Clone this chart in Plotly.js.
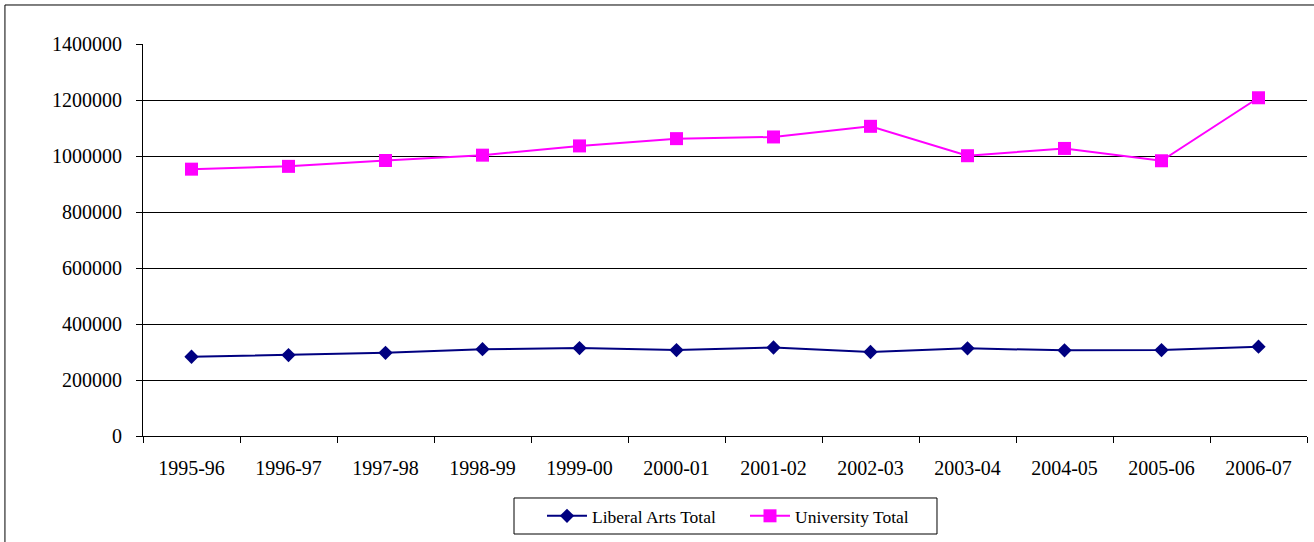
<!DOCTYPE html>
<html>
<head>
<meta charset="utf-8">
<script src="https://cdn.plot.ly/plotly-3.0.1.min.js"></script>
<style>
html,body{margin:0;padding:0;background:#fff;}
#chart{width:1314px;height:542px;}
</style>
</head>
<body>
<div id="chart"></div>
<script>
const years = ["1995-96","1996-97","1997-98","1998-99","1999-00","2000-01","2001-02","2002-03","2003-04","2004-05","2005-06","2006-07"];
const liberalArtsTotal = [283000,289000,297000,310000,314000,307000,316000,300000,313000,306000,307000,319000];
const universityTotal = [953000,963000,984000,1003000,1036000,1062000,1068000,1106000,1001000,1027000,983000,1208000];
const yTickVals = [0,200000,400000,600000,800000,1000000,1200000,1400000];

const fontFam = 'Liberation Serif, Times New Roman, serif';

const traces = [
  {
    x: years, y: liberalArtsTotal, name: "Liberal Arts Total",
    type: "scatter", mode: "lines+markers",
    line: {color: "#000080", width: 2},
    marker: {symbol: "diamond", size: 11, color: "#000080"}
  },
  {
    x: years, y: universityTotal, name: "University Total",
    type: "scatter", mode: "lines+markers",
    line: {color: "#FF00FF", width: 2},
    marker: {symbol: "square", size: 13, color: "#FF00FF"}
  }
];

const layout = {
  width: 1314, height: 542,
  margin: {l: 143, r: 7, t: 44, b: 106},
  paper_bgcolor: "#ffffff",
  plot_bgcolor: "#ffffff",
  font: {family: fontFam, size: 20, color: "#000"},
  showlegend: true,
  legend: {
    orientation: "h", x: 0.34278, xanchor: "left", y: -0.158, yanchor: "top",
    borderwidth: 0, bgcolor: "rgba(0,0,0,0)",
    font: {family: "Liberation Serif", size: 17.5, color: "#000"},
    itemwidth: 40, entrywidth: 148
  },
  xaxis: {
    type: "category",
    range: [-0.5, 11.5],
    showgrid: false,
    showline: true, linecolor: "#000", linewidth: 1,
    ticks: "outside", tickson: "boundaries", ticklen: 6, tickcolor: "#000",
    ticklabelstandoff: 14,
    tickfont: {family: fontFam, size: 20, color: "#000"},
    zeroline: false,
    fixedrange: true
  },
  yaxis: {
    range: [0, 1400000],
    tickvals: yTickVals,
    ticktext: yTickVals.map(v => String(v)),
    showgrid: true, gridcolor: "#000", gridwidth: 1,
    showline: true, linecolor: "#000", linewidth: 1,
    ticks: "outside", ticklen: 6, tickcolor: "#000",
    ticklabelstandoff: 10,
    tickfont: {family: fontFam, size: 20, color: "#000"},
    zeroline: false,
    fixedrange: true
  },
  shapes: [
    {type: "rect", xref: "paper", yref: "paper",
     x0: -0.1186, x1: 1.0075, y0: -0.30, y1: 1.0995,
     line: {color: "#000", width: 1}, fillcolor: "rgba(0,0,0,0)", layer: "below"},
    {type: "rect", xref: "paper", yref: "paper",
     x0: 0.31873, x1: 0.68213, y0: -0.25, y1: -0.15816,
     line: {color: "#000", width: 1}, fillcolor: "rgba(0,0,0,0)", layer: "below"}
  ]
};

Plotly.newPlot("chart", traces, layout, {displayModeBar: false, staticPlot: true});
</script>
</body>
</html>
